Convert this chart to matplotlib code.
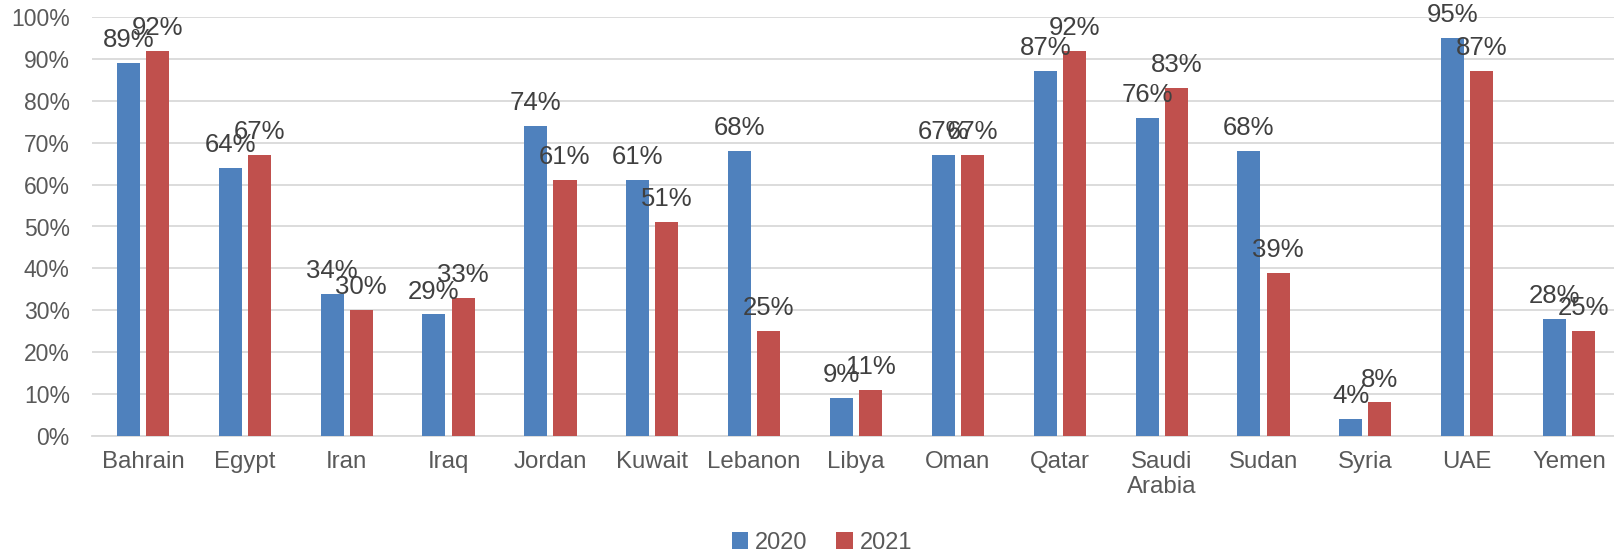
import matplotlib
matplotlib.use("Agg")
import matplotlib.pyplot as plt
import numpy as np

countries = ["Bahrain", "Egypt", "Iran", "Iraq", "Jordan", "Kuwait", "Lebanon",
             "Libya", "Oman", "Qatar", "Saudi\nArabia", "Sudan", "Syria", "UAE", "Yemen"]
vals_2020 = [89, 64, 34, 29, 74, 61, 68, 9, 67, 87, 76, 68, 4, 95, 28]
vals_2021 = [92, 67, 30, 33, 61, 51, 25, 11, 67, 92, 83, 39, 8, 87, 25]
series = ["2020", "2021"]
colors = ["#4F81BD", "#C0504D"]

plt.rcParams["font.family"] = ["Liberation Sans", "DejaVu Sans"]

fig = plt.figure(figsize=(16.15, 5.56), dpi=100)
ax = fig.add_axes([92 / 1615, 1 - 436 / 556, 1 - 92 / 1615, 419 / 556])

x = np.arange(len(countries))
w = 0.226
off = 0.143
for vals, name, col, dx in zip([vals_2020, vals_2021], series, colors, [-off, off]):
    bars = ax.bar(x + dx, vals, width=w, color=col, label=name, zorder=3)
    for b, v in zip(bars, vals):
        ax.annotate(f"{v}%", (b.get_x() + b.get_width() / 2, v),
                    xytext=(0, 11.5), textcoords="offset points",
                    ha="center", va="baseline", fontsize=18.5, color="#404040",
                    zorder=4)

ax.set_xlim(-0.5, 14.45)
ax.set_ylim(0, 100)
ax.set_yticks(range(0, 101, 10))
ax.set_yticklabels([f"{t}%" for t in range(0, 101, 10)])
ax.set_xticks(x)
ax.set_xticklabels(countries, linespacing=1.15)
ax.tick_params(axis="y", length=0, labelsize=16.5, labelcolor="#595959", pad=16)
ax.tick_params(axis="x", length=0, labelsize=17.3, labelcolor="#595959", pad=11)
ax.grid(axis="y", color="#D9D9D9", linewidth=1.3, zorder=0)
for s in ["top", "right", "left"]:
    ax.spines[s].set_visible(False)
ax.spines["bottom"].set_color("#D9D9D9")
ax.spines["bottom"].set_linewidth(1.3)

fig.legend(loc="center", bbox_to_anchor=(822 / 1615, 1 - 543 / 556), ncol=2,
           frameon=False, fontsize=17, labelcolor="#595959",
           handlelength=0.7, handleheight=0.7, handletextpad=0.3, columnspacing=1.2)

fig.savefig("out.png", dpi=100)
